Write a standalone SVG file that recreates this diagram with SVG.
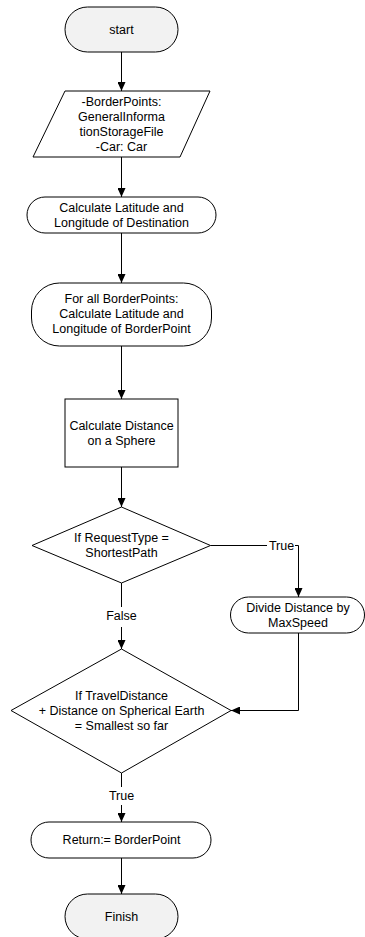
<svg xmlns="http://www.w3.org/2000/svg" width="365" height="937" viewBox="0 0 365 937">
  <defs>
    <marker id="arrow" markerUnits="userSpaceOnUse" markerWidth="9" markerHeight="8" refX="9" refY="4" orient="auto">
      <path d="M0,0 L9,4 L0,8 z" fill="#000"/>
    </marker>
    <style>
      .shape { fill: #fff; stroke: #000; stroke-width: 1; }
      .term { fill: #f2f2f2; stroke: #000; stroke-width: 1; }
      .label { font-family: "Liberation Sans", Arial, sans-serif; font-size: 12.5px; fill: #000; text-anchor: middle; }
      .edge { fill: none; stroke: #000; stroke-width: 1; }
      .arrow { marker-end: url(#arrow); }
    </style>
  </defs>
  <rect width="365" height="937" fill="#fff"/>

  <!-- connectors -->
  <g id="connectors">
    <path class="edge arrow" d="M121.5,52 V91"/>
    <path class="edge arrow" d="M121.5,157 V197"/>
    <path class="edge arrow" d="M121.5,233 V283"/>
    <path class="edge arrow" d="M121.5,346 V399"/>
    <path class="edge arrow" d="M121.5,467 V507"/>
    <!-- True branch of first decision -->
    <path class="edge" d="M210.5,545.5 H267"/>
    <path class="edge arrow" d="M295,545.5 H298.5 V597"/>
    <text class="label" x="281.5" y="550">True</text>
    <!-- False branch of first decision -->
    <path class="edge" d="M121.5,583 V607"/>
    <path class="edge arrow" d="M121.5,627 V649"/>
    <text class="label" x="121.5" y="620">False</text>
    <!-- back into second decision -->
    <path class="edge arrow" d="M298.5,633 V710.5 H231"/>
    <!-- True branch of second decision -->
    <path class="edge" d="M121.5,773 V787"/>
    <path class="edge arrow" d="M121.5,805 V822"/>
    <text class="label" x="121.5" y="800">True</text>
    <path class="edge arrow" d="M121.5,858 V894"/>
  </g>

  <g id="start">
    <rect class="term" x="65" y="7" width="113" height="45" rx="22.5"/>
    <text class="label" x="121.5" y="33.5">start</text>
  </g>

  <g id="input">
    <path class="shape" d="M65,91 H210 L180,157 H33 z"/>
    <text class="label" x="121.5" y="106">-BorderPoints:</text>
    <text class="label" x="121.5" y="121">GeneralInforma</text>
    <text class="label" x="121.5" y="136">tionStorageFile</text>
    <text class="label" x="121.5" y="151">-Car: Car</text>
  </g>

  <g id="destination">
    <rect class="shape" x="27" y="197" width="189" height="36" rx="18"/>
    <text class="label" x="121.5" y="212">Calculate Latitude and</text>
    <text class="label" x="121.5" y="227">Longitude of Destination</text>
  </g>

  <g id="borderpoints">
    <rect class="shape" x="31.5" y="283" width="180" height="63" rx="28"/>
    <text class="label" x="121.5" y="303">For all BorderPoints:</text>
    <text class="label" x="121.5" y="318">Calculate Latitude and</text>
    <text class="label" x="121.5" y="333">Longitude of BorderPoint</text>
  </g>

  <g id="distance">
    <rect class="shape" x="65" y="399" width="113" height="68"/>
    <text class="label" x="121.5" y="430">Calculate Distance</text>
    <text class="label" x="121.5" y="445">on a Sphere</text>
  </g>

  <g id="requesttype">
    <path class="shape" d="M121.5,507 L210.5,545.5 L121.5,583 L32,545.5 z"/>
    <text class="label" x="121.5" y="542">If RequestType =</text>
    <text class="label" x="121.5" y="557">ShortestPath</text>
  </g>

  <g id="divide">
    <rect class="shape" x="230.5" y="597" width="134" height="36" rx="18"/>
    <text class="label" x="298" y="612">Divide Distance by</text>
    <text class="label" x="298" y="627">MaxSpeed</text>
  </g>

  <g id="smallest">
    <path class="shape" d="M121.5,649 L231,710.5 L121.5,773 L11,710.5 z"/>
    <text class="label" x="121.5" y="699.5">If TravelDistance</text>
    <text class="label" x="121.5" y="715">+ Distance on Spherical Earth</text>
    <text class="label" x="121.5" y="730">= Smallest so far</text>
  </g>

  <g id="return">
    <rect class="shape" x="31" y="822" width="180" height="36" rx="18"/>
    <text class="label" x="121.5" y="843.5">Return:= BorderPoint</text>
  </g>

  <g id="finish">
    <rect class="term" x="65" y="894" width="113" height="45" rx="22.5"/>
    <text class="label" x="121.5" y="920.5">Finish</text>
  </g>
</svg>
